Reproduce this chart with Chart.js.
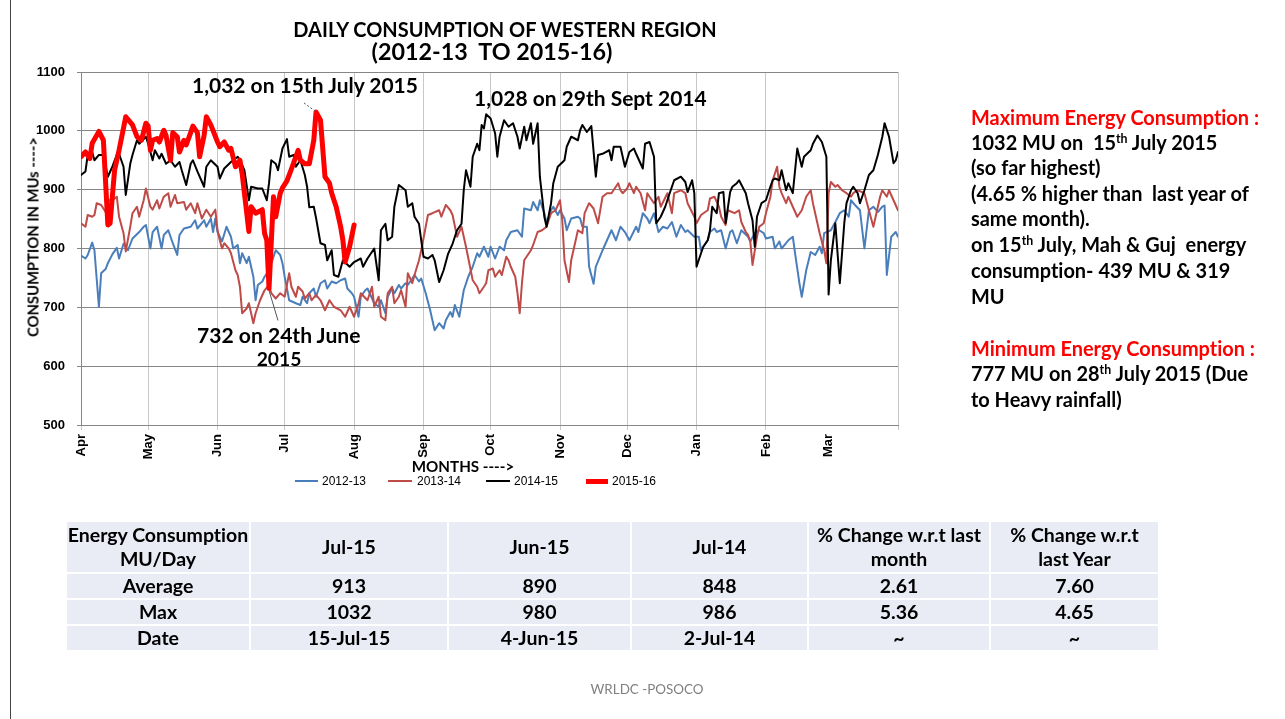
<!DOCTYPE html>
<html>
<head>
<meta charset="utf-8">
<script src="https://cdn.jsdelivr.net/npm/chart.js@4.4.1/dist/chart.umd.min.js"></script>
<style>
html,body{margin:0;padding:0;background:#fff;}
#wrap{position:relative;width:1285px;height:719px;overflow:hidden;font-family:Lato,"Open Sans",sans-serif;font-variant-ligatures:none;font-feature-settings:"liga" 0,"clig" 0;}
#c{position:absolute;left:0;top:0;}
.t{position:absolute;white-space:pre;font-weight:bold;color:#000;line-height:1.15;}
.vc{transform:translateY(-50%);}
.cc{transform:translate(-50%,-50%);}
.red{color:#ff0000;}
sup{font-size:0.62em;vertical-align:0.55em;line-height:0;}
#tbl{position:absolute;left:65px;top:520px;border-collapse:collapse;table-layout:fixed;font-family:Lato,sans-serif;font-weight:bold;color:#000;font-variant-ligatures:none;}
#tbl td{background:#e9ebf5;border:2px solid #fff;text-align:center;padding:0;line-height:24px;}
</style>
</head>
<body>
<div id="wrap">
<canvas id="c" width="1285" height="719"></canvas>
<div style="position:absolute;left:10px;top:0;width:1px;height:719px;background:#444;"></div>

<div class="t cc fit" data-w="424" style="left:505px;top:29px;font-size:18px;">DAILY CONSUMPTION OF WESTERN REGION</div>
<div class="t cc fit" data-w="241" style="left:492px;top:51px;font-size:18px;">(2012-13  TO 2015-16)</div>

<div class="t vc fit" data-w="226" style="left:192px;top:85px;font-size:18px;">1,032 on 15th July 2015</div>
<div class="t vc fit" data-w="233" style="left:474px;top:98px;font-size:18px;">1,028 on 29th Sept 2014</div>
<div class="t vc fit" data-w="164" style="left:197px;top:335px;font-size:18px;">732 on 24th June</div>
<div class="t cc fit" data-w="45" style="left:279px;top:359px;font-size:18px;">2015</div>

<div id="ytitle" class="t fit" data-w="200" style="left:33px;top:237px;font-size:13px;transform:translate(-50%,-50%) rotate(-90deg);">CONSUMPTION IN MUs ----&gt;</div>
<div class="t cc fit" data-w="103" style="left:463px;top:467px;font-size:14px;">MONTHS ----&gt;</div>

<div id="legend"></div>

<div id="note"></div>

<table id="tbl"></table>

<div class="t cc fit" data-w="113" style="left:647px;top:690px;font-size:12px;font-weight:normal;color:#808080;">WRLDC -POSOCO</div>
</div>

<script>
// ---------------- DATA ----------------
// x = day of the financial year (0 = 1 Apr), y = daily consumption in MU
const SERIES_NAMES = ['2012-13', '2013-14', '2014-15', '2015-16'];

const s201213 = [[0,788],[2,783],[3,789],[5,810],[6,797],[8,701],[9,758],[11,765],[12,775],[14,790],[16,801],[17,783],[19,808],[21,797],[23,817],[26,828],[28,837],[29,840],[31,800],[32,828],[34,837],[36,800],[37,823],[39,831],[41,809],[43,789],[44,823],[46,834],[49,837],[51,848],[52,834],[55,848],[56,837],[58,851],[59,828],[60,851],[61,828],[63,812],[65,837],[67,820],[68,800],[70,806],[71,775],[72,792],[74,775],[75,786],[77,752],[78,712],[79,738],[81,744],[82,752],[84,763],[87,797],[89,789],[90,775],[91,752],[93,712],[96,707],[98,704],[99,718],[101,707],[102,724],[104,732],[105,718],[107,741],[109,746],[110,732],[112,744],[114,741],[116,746],[118,749],[119,732],[121,724],[122,718],[124,684],[125,718],[127,729],[128,732],[131,707],[133,701],[134,712],[136,690],[137,718],[139,732],[140,724],[142,738],[143,732],[145,741],[146,738],[148,749],[149,755],[151,744],[152,749],[154,724],[156,695],[158,661],[160,673],[162,664],[163,678],[165,692],[166,684],[167,704],[169,684],[171,729],[173,752],[175,769],[177,792],[178,786],[180,803],[182,786],[183,803],[185,783],[187,803],[189,797],[190,814],[192,828],[195,831],[197,820],[198,868],[201,865],[202,879],[204,865],[205,882],[207,860],[208,843],[210,865],[211,871],[213,857],[214,865],[216,851],[217,831],[219,851],[222,854],[223,851],[224,837],[226,837],[227,769],[229,740],[230,769],[233,797],[235,814],[237,831],[239,814],[241,837],[243,828],[245,814],[248,837],[249,828],[251,860],[253,851],[254,843],[256,860],[258,828],[260,837],[262,834],[264,845],[266,820],[268,840],[270,828],[271,831],[274,820],[276,820],[277,797],[280,814],[281,828],[283,834],[284,828],[286,831],[288,800],[290,828],[291,831],[293,809],[295,831],[298,820],[299,812],[301,826],[303,831],[305,826],[306,817],[309,820],[310,800],[312,812],[313,800],[315,809],[316,814],[318,820],[319,792],[321,740],[322,718],[324,763],[326,794],[328,789],[330,803],[331,792],[332,826],[335,831],[337,845],[339,860],[341,865],[343,854],[344,882],[346,873],[348,865],[350,800],[352,865],[354,871],[356,862],[358,871],[359,873],[360,755],[362,820],[364,828],[365,820]];

const s201314 = [[0,843],[2,837],[3,857],[5,854],[6,857],[7,877],[9,874],[11,862],[12,882],[14,882],[16,888],[17,854],[19,826],[20,795],[22,837],[23,860],[25,871],[26,854],[28,882],[29,902],[31,871],[32,866],[34,882],[35,868],[37,888],[39,894],[40,871],[42,891],[43,877],[46,879],[47,866],[49,877],[51,860],[52,877],[54,851],[56,866],[58,854],[60,866],[61,831],[62,814],[63,800],[64,809],[66,800],[67,792],[69,763],[70,755],[71,735],[72,690],[74,698],[75,707],[77,673],[78,690],[80,712],[82,729],[84,738],[85,724],[87,715],[89,724],[91,718],[93,758],[94,735],[96,718],[97,735],[99,727],[100,715],[102,724],[103,712],[105,721],[107,712],[109,695],[111,712],[113,701],[116,695],[118,684],[120,701],[122,684],[124,707],[125,724],[128,712],[130,735],[131,701],[133,718],[134,684],[136,678],[137,724],[139,735],[140,707],[142,718],[143,729],[145,701],[146,758],[148,741],[149,755],[151,780],[152,797],[154,837],[155,857],[157,860],[160,865],[161,854],[163,874],[165,865],[166,857],[168,820],[170,837],[172,803],[175,746],[177,735],[178,724],[180,735],[181,741],[182,763],[184,766],[185,752],[187,763],[188,755],[190,786],[191,780],[192,769],[194,752],[195,724],[196,690],[197,741],[198,780],[201,797],[202,806],[204,828],[206,831],[208,837],[210,860],[212,865],[214,882],[215,848],[216,780],[218,743],[219,780],[221,814],[222,831],[224,826],[225,860],[227,877],[229,868],[231,843],[233,888],[235,894],[237,894],[240,911],[241,899],[242,894],[244,902],[245,911],[247,894],[248,905],[250,894],[252,865],[253,894],[254,888],[256,877],[258,888],[259,871],[262,894],[264,860],[265,894],[268,899],[270,894],[271,877],[274,854],[275,843],[277,857],[280,865],[281,885],[283,888],[285,871],[286,854],[288,840],[289,865],[292,860],[294,865],[295,845],[297,828],[298,823],[299,812],[300,772],[302,820],[303,837],[305,843],[306,860],[308,888],[309,916],[311,939],[312,905],[313,894],[315,877],[316,888],[318,871],[320,854],[322,865],[324,888],[326,899],[327,877],[329,843],[330,826],[332,797],[333,775],[334,894],[335,913],[337,905],[338,908],[340,899],[342,894],[344,888],[345,894],[347,899],[350,894],[352,865],[354,837],[356,871],[357,888],[358,899],[360,888],[361,899],[363,882],[365,865]];

const s201415 = [[0,925],[2,931],[3,959],[5,964],[6,950],[8,959],[10,959],[12,922],[14,939],[16,959],[17,961],[19,939],[20,891],[22,944],[23,959],[25,984],[26,978],[29,990],[30,978],[32,950],[33,967],[35,953],[36,961],[38,944],[40,950],[42,939],[44,947],[45,933],[47,908],[49,944],[50,950],[52,931],[55,905],[56,939],[58,950],[61,939],[62,919],[64,936],[67,947],[70,956],[71,950],[73,933],[75,882],[76,905],[79,902],[81,902],[83,882],[84,911],[85,950],[87,944],[88,933],[90,970],[92,986],[93,956],[95,959],[96,939],[98,950],[100,925],[101,905],[102,870],[104,871],[105,852],[107,809],[109,806],[110,780],[112,797],[113,755],[115,752],[117,780],[120,769],[122,777],[125,783],[126,769],[128,783],[131,800],[133,746],[134,831],[136,842],[137,814],[139,820],[140,871],[142,908],[145,899],[146,871],[148,877],[149,854],[151,842],[153,786],[155,783],[157,789],[158,780],[160,743],[162,763],[164,791],[166,808],[168,831],[170,842],[171,899],[172,933],[174,905],[175,956],[177,978],[178,967],[179,1010],[180,1004],[181,1028],[183,1021],[185,996],[186,956],[187,990],[189,1018],[191,1007],[193,1013],[195,990],[196,970],[198,1007],[199,984],[201,1013],[202,978],[204,1013],[205,922],[207,854],[208,837],[210,877],[211,911],[213,939],[216,950],[217,973],[219,990],[222,984],[223,1001],[224,1010],[226,998],[228,1008],[230,922],[231,959],[233,961],[236,967],[237,950],[238,973],[241,973],[243,939],[245,964],[247,970],[248,961],[251,936],[252,978],[254,981],[256,956],[257,843],[259,854],[261,871],[263,894],[265,916],[268,922],[270,913],[271,896],[273,916],[274,894],[275,769],[277,792],[278,803],[280,814],[281,831],[282,871],[284,860],[285,894],[287,896],[288,843],[290,896],[291,905],[293,911],[294,916],[297,894],[298,877],[300,848],[301,803],[302,854],[304,877],[306,882],[307,894],[309,916],[310,919],[312,916],[313,933],[315,899],[316,911],[318,894],[320,970],[322,939],[323,956],[326,967],[327,978],[329,992],[331,981],[333,956],[334,722],[335,780],[337,843],[339,741],[341,843],[342,877],[344,899],[345,905],[347,894],[348,877],[350,899],[352,925],[354,933],[356,959],[358,990],[359,1013],[361,990],[363,945],[364,950],[365,964]];

const s201516 = [[0,956],[2,964],[4,953],[5,979],[8,999],[10,984],[12,840],[13,843],[15,933],[17,967],[20,1024],[23,1010],[25,990],[27,984],[29,1013],[30,1008],[31,967],[32,984],[34,987],[35,981],[37,1001],[38,992],[40,950],[41,997],[43,990],[44,964],[46,984],[47,976],[49,997],[50,1008],[52,997],[53,956],[55,992],[56,1024],[58,1010],[61,981],[62,973],[64,981],[66,967],[67,970],[69,939],[71,950],[72,927],[75,829],[76,871],[78,860],[81,866],[82,826],[83,814],[84,732],[86,888],[87,854],[89,894],[90,903],[92,915],[94,935],[97,967],[98,950],[100,944],[102,944],[104,984],[105,1032],[107,1018],[109,922],[111,911],[112,894],[114,871],[116,837],[117,814],[118,777],[120,803],[122,840]];

const MONTH_DAYS   = [0, 30, 61, 91, 122, 153, 183, 214, 244, 275, 306, 334, 365];
const MONTH_LABELS = ['Apr','May','Jun','Jul','Aug','Sep','Oct','Nov','Dec','Jan','Feb','Mar',''];
const Y_TICKS = [500, 600, 700, 800, 900, 1000, 1100];

// annotated points
const PEAK_2015 = {day: 105, mu: 1032};
const LOW_2015  = {day: 84,  mu: 732};

// table
const TABLE_HEAD = ['Energy Consumption<br>MU/Day', 'Jul-15', 'Jun-15', 'Jul-14', '% Change w.r.t last<br>month', '% Change w.r.t<br>last Year'];
const TABLE_ROWS = [
  ['Average', '913', '890', '848', '2.61', '7.60'],
  ['Max', '1032', '980', '986', '5.36', '4.65'],
  ['Date', '15-Jul-15', '4-Jun-15', '2-Jul-14', '~', '~']
];

// ---------------- styling ----------------
const COLORS = ['#4a7ebb', '#be4b48', '#000000', '#ff0000'];
const WIDTHS = [2, 2, 2, 5];
const ORDERS = [3, 2, 1, 0];
const SERIES = [s201213, s201314, s201415, s201516];

// ---------- text fitting ----------
function fitAll(){
  document.querySelectorAll('.fit').forEach(el=>{
    const fs = parseFloat(getComputedStyle(el).fontSize);
    const w = el.offsetWidth;
    el.style.fontSize = (fs * parseFloat(el.dataset.w) / w) + 'px';
  });
}

// ---------- right note ----------
const NOTE = [
  {y:117, red:true,  html:'Maximum Energy Consumption :'},
  {y:142, html:'1032 MU on  15<sup>th</sup> July 2015'},
  {y:167, html:'(so far highest)'},
  {y:193, html:'(4.65 % higher than  last year of'},
  {y:218, html:'same month).'},
  {y:244, html:'on 15<sup>th</sup> July, Mah &amp; Guj  energy'},
  {y:270, html:'consumption- 439 MU &amp; 319'},
  {y:296, html:'MU'},
  {y:348, red:true,  html:'Minimum Energy Consumption :'},
  {y:373, html:'777 MU on 28<sup>th</sup> July 2015 (Due'},
  {y:399, html:'to Heavy rainfall)'}
];
const note = document.getElementById('note');
NOTE.forEach((n,i)=>{
  const d = document.createElement('div');
  d.className = 't vc' + (n.red ? ' red' : '');
  d.style.left = '971px'; d.style.top = n.y + 'px'; d.style.fontSize = '18px';
  d.innerHTML = n.html;
  note.appendChild(d);
});
(function(){
  const first = note.firstChild;
  const s = 18 * 288 / first.offsetWidth;
  note.childNodes.forEach(d=> d.style.fontSize = s + 'px');
})();

// ---------- table ----------
(function(){
  const tbl = document.getElementById('tbl');
  const cw = [184,198,183,177,182,169];
  const cg = document.createElement('colgroup');
  cw.forEach(w=>{ const c=document.createElement('col'); c.style.width=w+'px'; cg.appendChild(c); });
  tbl.appendChild(cg);
  const probe = document.createElement('span');
  probe.style.cssText = 'position:absolute;visibility:hidden;white-space:nowrap;font:bold 18px Lato,sans-serif;font-variant-ligatures:none;';
  probe.textContent = 'Energy Consumption';
  document.body.appendChild(probe);
  const fs = 18 * 181 / probe.offsetWidth;
  probe.remove();
  tbl.style.fontSize = fs + 'px';
  const addRow = (cells, h)=>{
    const tr = document.createElement('tr');
    tr.style.height = h + 'px';
    cells.forEach(c=>{ const td=document.createElement('td'); td.innerHTML=c; tr.appendChild(td); });
    tbl.appendChild(tr);
  };
  addRow(TABLE_HEAD, 52);
  TABLE_ROWS.forEach(r=>addRow(r, 26));
})();

// ---------- legend ----------
(function(){
  const L = document.getElementById('legend');
  const pos = [[295,318,322],[388,412,417],[486,510,514],[586,608,612]];
  SERIES_NAMES.forEach((name,i)=>{
    const ln = document.createElement('div');
    ln.style.cssText = `position:absolute;left:${pos[i][0]}px;top:${481-WIDTHS[i]/2}px;width:${pos[i][1]-pos[i][0]}px;height:${WIDTHS[i]}px;background:${COLORS[i]};`;
    L.appendChild(ln);
    const tx = document.createElement('div');
    tx.className = 't vc';
    tx.style.cssText += `left:${pos[i][2]}px;top:481px;font:12px "Liberation Sans",Arial,sans-serif;color:#000;`;
    tx.textContent = name;
    L.appendChild(tx);
  });
})();

fitAll();

// ---------- chart ----------
const leaderPlugin = {
  id: 'leaders',
  afterDatasetsDraw(chart){
    const {ctx, scales:{x, y}} = chart;
    ctx.save();
    ctx.strokeStyle = '#555';
    ctx.lineWidth = 1;
    let px = x.getPixelForValue(PEAK_2015.day), py = y.getPixelForValue(PEAK_2015.mu);
    ctx.setLineDash([2,2]);
    ctx.beginPath(); ctx.moveTo(px - 12, py - 9); ctx.lineTo(px - 1, py - 1); ctx.stroke();
    ctx.setLineDash([]);
    px = x.getPixelForValue(LOW_2015.day); py = y.getPixelForValue(LOW_2015.mu);
    ctx.beginPath(); ctx.moveTo(px, py + 2); ctx.lineTo(px + 9, py + 32); ctx.stroke();
    ctx.restore();
  }
};

new Chart(document.getElementById('c'), {
  type: 'line',
  data: {
    datasets: SERIES.map((s,i)=>({
      label: SERIES_NAMES[i],
      data: s.map(p=>({x:p[0], y:p[1]})),
      borderColor: COLORS[i],
      backgroundColor: COLORS[i],
      borderWidth: WIDTHS[i],
      pointRadius: 0,
      tension: 0,
      borderJoinStyle: 'round',
      borderCapStyle: 'round',
      order: ORDERS[i]
    }))
  },
  options: {
    responsive: false,
    animation: false,
    devicePixelRatio: 1,
    layout: {padding: {left: 31, right: 387, top: 72, bottom: 254}},
    plugins: {legend: {display: false}, tooltip: {enabled: false}, title: {display: false}},
    scales: {
      x: {
        type: 'linear', min: 0, max: 365,
        afterBuildTicks: s => { s.ticks = MONTH_DAYS.map(v=>({value:v})); },
        afterFit: s => { s.height = 40; },
        ticks: {
          autoSkip: false, maxRotation: 90, minRotation: 90, padding: 4,
          font: {family: '"Liberation Sans", Arial, sans-serif', size: 13, weight: 'bold'},
          color: '#000',
          callback: (v, i) => MONTH_LABELS[i]
        },
        grid: {
          color: c => (c.tick && c.tick.value === 334) ? 'rgba(0,0,0,0)' : '#c8c8c8',
          lineWidth: 1, tickLength: 5, drawOnChartArea: true
        },
        border: {color: '#868686', width: 1}
      },
      y: {
        min: 500, max: 1100,
        afterBuildTicks: s => { s.ticks = Y_TICKS.map(v=>({value:v})); },
        afterFit: s => { s.width = 50; },
        ticks: {
          padding: 12,
          font: {family: '"Liberation Sans", Arial, sans-serif', size: 13, weight: 'bold'},
          color: '#000',
          callback: v => String(v)
        },
        grid: {color: '#868686', lineWidth: 1, tickLength: 4},
        border: {color: '#868686', width: 1}
      }
    }
  },
  plugins: [leaderPlugin]
});
</script>
</body>
</html>
